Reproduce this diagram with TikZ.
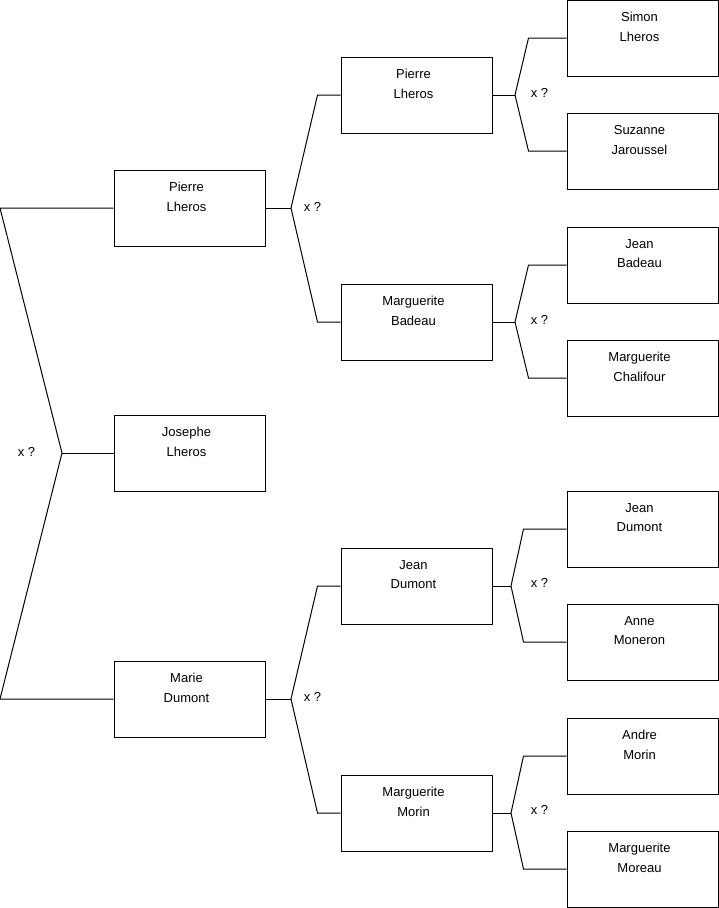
\documentclass[tikz,border=0pt]{standalone}
\usepackage{fontspec}
\setmainfont{Liberation Sans}
\newcommand{\ptxt}[2]{\parbox[c][76pt][t]{145pt}{\centering\fontsize{13}{19.5}\selectfont\vspace*{12.5pt}#1\\#2}\hspace*{6pt}}
\tikzset{
  pbox/.style={draw=black, line width=1pt, inner sep=0pt, minimum width=151pt, minimum height=76pt},
  conn/.style={draw=black, line width=1pt},
  qlab/.style={inner sep=0pt, font=\fontsize{13}{15}\selectfont}
}
\begin{document}
\begin{tikzpicture}[x=1pt,y=-1pt]
\useasboundingbox (0,0) rectangle (719,908);
% column 1
\node[pbox] (p1) at (189.5,208) {\ptxt{Pierre}{Lheros}};
\node[pbox] (jo) at (189.5,453) {\ptxt{Josephe}{Lheros}};
\node[pbox] (ma) at (189.5,699) {\ptxt{Marie}{Dumont}};
% column 2
\node[pbox] (pl) at (416.5,95) {\ptxt{Pierre}{Lheros}};
\node[pbox] (mb) at (416.5,322) {\ptxt{Marguerite}{Badeau}};
\node[pbox] (jd) at (416.5,586) {\ptxt{Jean}{Dumont}};
\node[pbox] (mm) at (416.5,813) {\ptxt{Marguerite}{Morin}};
% column 3
\node[pbox] (sl) at (642.5,38) {\ptxt{Simon}{Lheros}};
\node[pbox] (sj) at (642.5,151) {\ptxt{Suzanne}{Jaroussel}};
\node[pbox] (jb) at (642.5,265) {\ptxt{Jean}{Badeau}};
\node[pbox] (mc) at (642.5,378) {\ptxt{Marguerite}{Chalifour}};
\node[pbox] (jd2) at (642.5,529) {\ptxt{Jean}{Dumont}};
\node[pbox] (am) at (642.5,642) {\ptxt{Anne}{Moneron}};
\node[pbox] (ao) at (642.5,756) {\ptxt{Andre}{Morin}};
\node[pbox] (mo) at (642.5,869) {\ptxt{Marguerite}{Moreau}};
% junctions
\coordinate (a0) at (0,208);
\coordinate (b0) at (0,699);
\coordinate (j0) at (62,453);
\coordinate (j1) at (291,208);
\coordinate (j2) at (291,699);
\coordinate (j3) at (515,95);
\coordinate (j4) at (515,322);
\coordinate (j5) at (511,586);
\coordinate (j6) at (511,813);
% level 1
\draw[conn] (p1.west) -- (a0) -- (j0) -- (b0) -- (ma.west);
\draw[conn] (j0) -- (jo.west);
% level 2
\draw[conn] (p1.east) -- (j1);
\draw[conn] (pl.west) -- ++(-23,0) -- (j1);
\draw[conn] (mb.west) -- ++(-23,0) -- (j1);
\draw[conn] (ma.east) -- (j2);
\draw[conn] (jd.west) -- ++(-23,0) -- (j2);
\draw[conn] (mm.west) -- ++(-23,0) -- (j2);
% level 3
\draw[conn] (pl.east) -- (j3);
\draw[conn] (sl.west) -- ++(-38,0) -- (j3);
\draw[conn] (sj.west) -- ++(-38,0) -- (j3);
\draw[conn] (mb.east) -- (j4);
\draw[conn] (jb.west) -- ++(-38,0) -- (j4);
\draw[conn] (mc.west) -- ++(-38,0) -- (j4);
\draw[conn] (jd.east) -- (j5);
\draw[conn] (jd2.west) -- ++(-43,0) -- (j5);
\draw[conn] (am.west) -- ++(-43,0) -- (j5);
\draw[conn] (mm.east) -- (j6);
\draw[conn] (ao.west) -- ++(-43,0) -- (j6);
\draw[conn] (mo.west) -- ++(-43,0) -- (j6);
% labels
\node[qlab] (q0) at (26.5,452) {x ?};
\node[qlab] (q1) at (312.5,207) {x ?};
\node[qlab] (q2) at (312.5,697) {x ?};
\node[qlab] (q3) at (539.5,93) {x ?};
\node[qlab] (q4) at (539.5,320) {x ?};
\node[qlab] (q5) at (539.5,583) {x ?};
\node[qlab] (q6) at (539.5,810) {x ?};
\end{tikzpicture}
\end{document}
